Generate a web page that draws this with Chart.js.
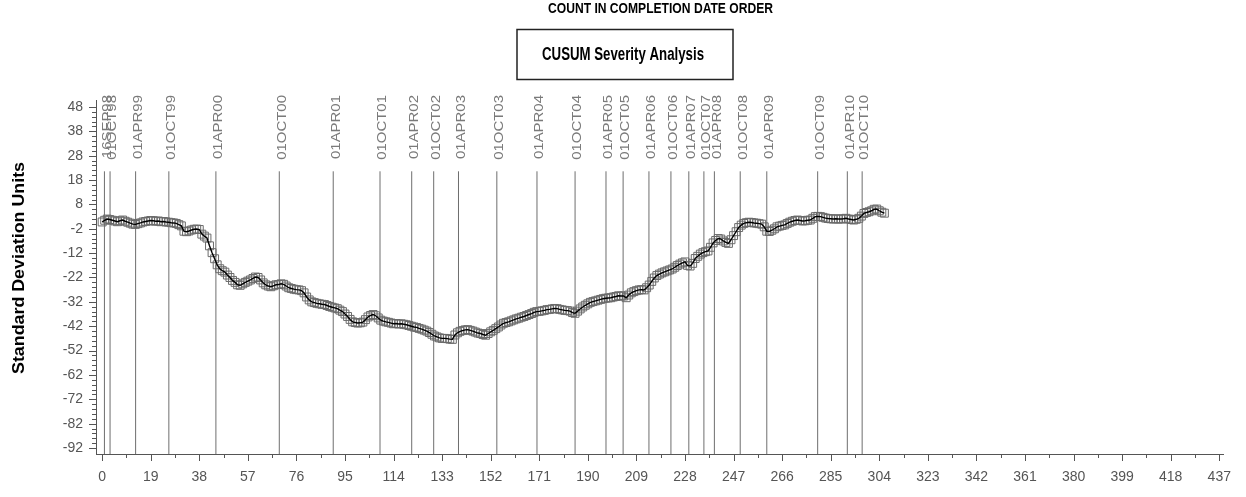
<!DOCTYPE html>
<html><head><meta charset="utf-8">
<script src="https://cdn.jsdelivr.net/npm/chart.js@4"></script>
<style>html,body{margin:0;padding:0;background:#fff;}#wrap{width:1246px;height:497px;}</style>
</head><body><div id="wrap"><canvas id="c" width="1246" height="497"></canvas></div>
<script>
// ---------- DATA ----------
const cusumValues = [
 0.8, 1.5, 2.0, 1.8, 1.5, 1.2, 0.9, 1.3, 1.6, 1.1,
 0.7, 0.3, -0.1, -0.2, 0.1, 0.4, 0.8, 1.0, 1.2, 1.4,
 1.3, 1.1, 1.2, 0.9, 1.0, 0.8, 0.7, 0.5, 0.4, 0.2,
 -0.3, -0.8, -3.0, -3.2, -2.9, -2.5, -2.2, -2.1, -2.3, -4.2,
 -5.0, -5.8, -9.0, -11.8, -14.3, -16.8, -18.4, -19.2, -19.8, -21.0,
 -22.0, -23.2, -24.0, -25.0, -25.2, -24.6, -24.0, -23.5, -23.0, -22.4,
 -21.8, -22.0, -23.0, -24.2, -25.0, -25.5, -25.8, -25.4, -25.0, -24.9,
 -24.6, -24.8, -25.5, -26.2, -26.5, -26.8, -27.0, -27.1, -27.4, -28.3,
 -30.0, -31.2, -32.0, -32.3, -32.6, -32.8, -33.0, -33.1, -33.5, -33.9,
 -34.2, -34.5, -34.8, -35.4, -36.0, -37.0, -38.0, -39.2, -40.2, -40.5,
 -40.7, -40.6, -40.3, -39.3, -38.2, -37.6, -37.2, -37.7, -38.6, -39.5,
 -39.9, -40.2, -40.4, -40.7, -41.0, -40.9, -41.1, -41.0, -41.2, -41.4,
 -41.7, -42.0, -42.3, -42.5, -42.9, -43.2, -43.6, -44.0, -44.6, -45.3,
 -46.0, -46.4, -46.8, -47.0, -47.0, -47.1, -47.3, -47.4, -45.6, -44.7,
 -44.1, -43.8, -43.5, -43.4, -43.7, -44.0, -44.4, -44.8, -45.0, -45.4,
 -45.7, -45.0, -44.3, -43.7, -43.0, -42.3, -41.5, -40.8, -40.5, -40.2,
 -39.8, -39.4, -39.0, -38.7, -38.3, -38.0, -37.6, -37.2, -36.8, -36.3,
 -36.0, -35.9, -35.7, -35.5, -35.2, -35.1, -34.9, -34.7, -34.8, -35.1,
 -35.3, -35.5, -35.6, -35.8, -36.4, -36.7, -35.8, -34.9, -34.1, -33.4,
 -32.8, -32.2, -31.9, -31.6, -31.3, -31.0, -30.7, -30.5, -30.4, -30.3,
 -30.0, -29.8, -29.5, -29.6, -29.6, -30.3, -29.2, -28.3, -27.8, -27.4,
 -27.1, -27.0, -27.1, -26.2, -25.1, -23.6, -22.2, -21.2, -20.6, -20.1,
 -19.7, -19.3, -18.9, -18.5, -17.8, -17.1, -16.5, -16.0, -15.6, -17.0,
 -17.3, -16.2, -14.2, -13.3, -12.4, -11.8, -11.4, -11.1, -9.6, -7.8,
 -6.8, -6.0, -6.2, -7.0, -7.6, -8.0, -6.5, -4.8, -3.2, -1.5,
 -0.5, 0.2, 0.5, 0.7, 0.6, 0.4, 0.3, 0.1, -0.1, -1.2,
 -3.0, -3.1, -2.6, -2.0, -1.2, -0.9, -0.6, -0.4, 0.2, 0.7,
 1.1, 1.4, 1.6, 1.4, 1.2, 1.3, 1.5, 1.6, 2.3, 3.0,
 3.1, 3.0, 2.7, 2.4, 2.2, 2.1, 2.0, 2.1, 2.0, 2.0,
 2.1, 2.3, 2.0, 1.8, 1.6, 1.9, 2.3, 3.2, 4.3, 4.7,
 5.0, 5.4, 6.0, 6.1, 5.4, 4.8, 4.4
];
const xTickValues = [0,19,38,57,76,95,114,133,152,171,190,209,228,247,266,285,304,323,342,361,380,399,418,437];
const yTickValues = [48,38,28,18,8,-2,-12,-22,-32,-42,-52,-62,-72,-82,-92];
const dateLabels = ['16SEP98','01OCT98','01APR99','01OCT99','01APR00','01OCT00','01APR01','01OCT01',
  '01APR02','01OCT02','01APR03','01OCT03','01APR04','01OCT04','01APR05','01OCT05','01APR06','01OCT06',
  '01APR07','01OCT07','01APR08','01OCT08','01APR09','01OCT09','01APR10','01OCT10'];
const datePositions = [0.9,3.1,13.1,26.1,44.5,69.3,90.4,108.7,121.1,129.7,139.4,154.4,170.1,185.0,
  197.1,203.8,213.9,222.5,229.5,235.4,239.5,249.6,260.0,279.9,291.5,297.3];
const mainTitle = 'COUNT IN COMPLETION DATE ORDER';
const boxTitle = 'CUSUM Severity Analysis';
const yAxisTitle = 'Standard Deviation Units';

// ---------- DRAWING ----------
const points = cusumValues.map((v, i) => ({x: i, y: v}));
const tickFont = {family: "'Liberation Sans Narrow','Liberation Sans',sans-serif", size: 14};

function fitText(ctx, text, cx, cy, width, font, rot) {
  ctx.save();
  ctx.font = font;
  const w = ctx.measureText(text).width;
  ctx.translate(cx, cy);
  if (rot) ctx.rotate(rot);
  ctx.scale(width / w, 1);
  ctx.textAlign = 'center';
  ctx.textBaseline = 'middle';
  ctx.fillText(text, 0, 0);
  ctx.restore();
}

const overlay = {
  id: 'overlay',
  beforeDatasetsDraw(chart) {
    const {ctx, scales: {x, y}} = chart;
    const top = y.getPixelForValue(21.6);
    ctx.save();
    ctx.strokeStyle = '#6e6e6e';
    ctx.lineWidth = 1;
    datePositions.forEach(d => {
      const px = x.getPixelForValue(d);
      ctx.beginPath(); ctx.moveTo(px, top); ctx.lineTo(px, y.bottom); ctx.stroke();
    });
    // date labels
    ctx.font = "12px 'Liberation Sans'";
    const sx = 64 / ctx.measureText('01APR02').width;
    ctx.fillStyle = '#7a7a7a';
    ctx.textAlign = 'right';
    ctx.textBaseline = 'middle';
    datePositions.forEach((d, i) => {
      const px = x.getPixelForValue(d);
      ctx.save();
      ctx.translate(px + 3, 95);
      ctx.rotate(-Math.PI / 2);
      ctx.scale(sx, 1);
      ctx.fillText(dateLabels[i], 0, 0);
      ctx.restore();
    });
    ctx.restore();
  },
  afterDraw(chart) {
    const {ctx, scales: {x, y}} = chart;
    ctx.save();
    ctx.strokeStyle = '#555';
    ctx.lineWidth = 1;
    // y ticks (major every 10, minor every 2)
    for (let v = -92; v <= 48.001; v += 2) {
      const py = Math.round(y.getPixelForValue(v)) + 0.5;
      const major = yTickValues.includes(Math.round(v));
      const len = major ? 7 : 4;
      ctx.beginPath(); ctx.moveTo(y.right - len, py); ctx.lineTo(y.right, py); ctx.stroke();
    }
    // x ticks (major every 19, minor in between)
    for (let v = 0; v <= 437.001; v += 9.5) {
      const px = Math.round(x.getPixelForValue(v)) + 0.5;
      const major = Math.abs(v / 19 - Math.round(v / 19)) < 1e-6;
      const len = major ? 7 : 4;
      ctx.beginPath(); ctx.moveTo(px, x.top); ctx.lineTo(px, x.top + len); ctx.stroke();
    }
    ctx.restore();
    // titles
    ctx.save();
    ctx.fillStyle = '#000';
    fitText(ctx, mainTitle, 660.5, 9, 225, "bold 14px 'Liberation Sans'");
    ctx.strokeStyle = '#222';
    ctx.lineWidth = 1.5;
    ctx.strokeRect(517, 29.5, 216, 50);
    fitText(ctx, boxTitle, 623, 55, 162, "bold 19px 'Liberation Sans'");
    fitText(ctx, yAxisTitle, 20, 268, 212, "bold 16px 'Liberation Sans'", -Math.PI / 2);
    ctx.restore();
  }
};

new Chart(document.getElementById('c'), {
  type: 'line',
  data: {
    datasets: [
      {data: points, borderColor: '#000', borderWidth: 1.4, pointRadius: 0, tension: 0, fill: false},
      {data: points, showLine: false, pointStyle: 'rect', pointRadius: 5.6, pointBorderWidth: 1,
       pointBorderColor: '#6a6a6a', pointBackgroundColor: 'rgba(0,0,0,0)'}
    ]
  },
  options: {
    responsive: false,
    animation: false,
    devicePixelRatio: 1,
    layout: {padding: {top: 100, right: 14, left: 0, bottom: 0}},
    plugins: {legend: {display: false}, tooltip: {enabled: false}, title: {display: false}},
    scales: {
      x: {
        type: 'linear', min: -2.4, max: 438.6,
        afterBuildTicks: s => { s.ticks = xTickValues.map(v => ({value: v})); },
        afterFit: s => { s.height = 43; },
        grid: {display: false, drawTicks: false},
        border: {display: true, color: '#555', width: 1},
        ticks: {font: tickFont, color: '#555', padding: 15, maxRotation: 0, autoSkip: false}
      },
      y: {
        type: 'linear', min: -94.46, max: 50.87,
        afterBuildTicks: s => { s.ticks = yTickValues.map(v => ({value: v})); },
        afterFit: s => { s.width = 96; },
        grid: {display: false, drawTicks: false},
        border: {display: true, color: '#555', width: 1},
        ticks: {font: tickFont, color: '#555', padding: 13, autoSkip: false}
      }
    }
  },
  plugins: [overlay]
});
</script></body></html>
